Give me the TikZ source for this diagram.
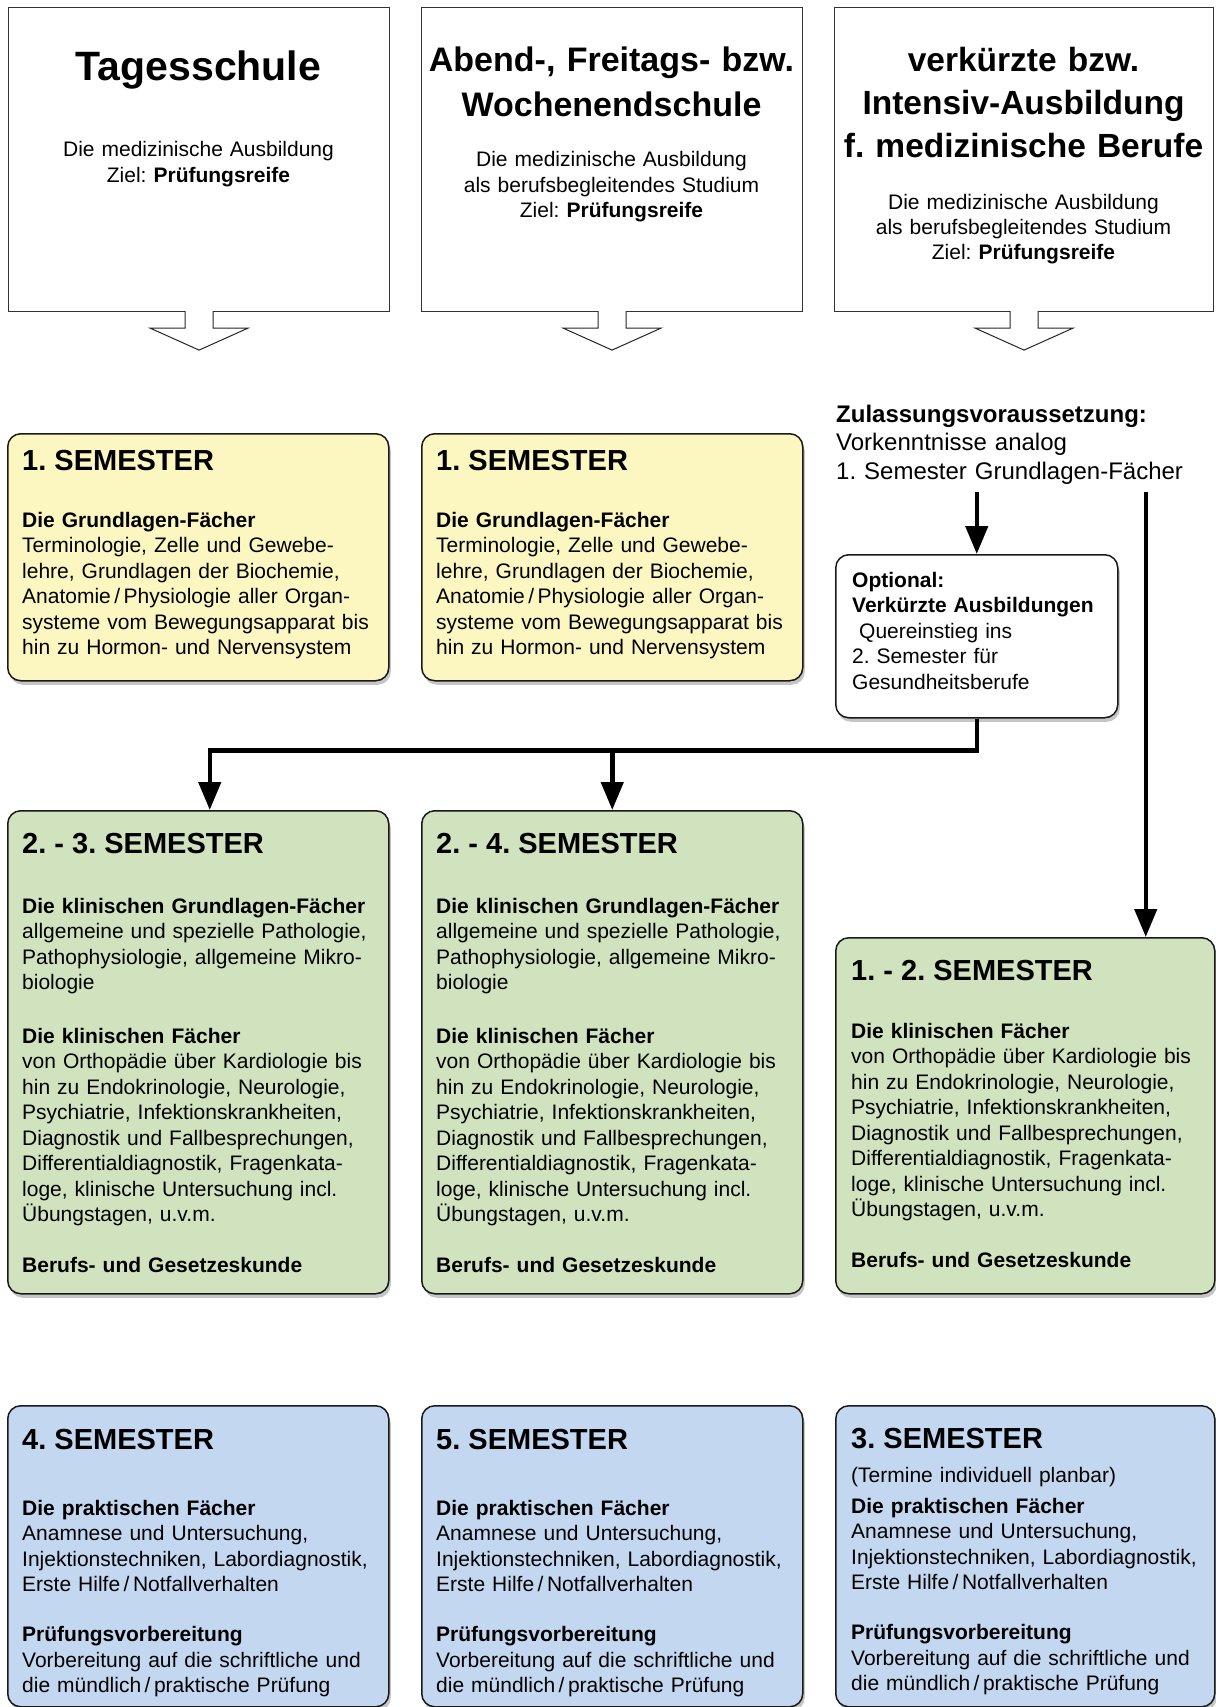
\documentclass[tikz,border=0pt]{standalone}
\usepackage{fontspec}
\setmainfont{Liberation Sans}
\usetikzlibrary{arrows.meta,shadows}
\definecolor{gelb}{HTML}{FCF6C0}
\definecolor{gruen}{HTML}{D0E3BE}
\definecolor{blau}{HTML}{C3D8F0}
\frenchspacing
\begin{document}
\begin{tikzpicture}[x=1pt, y=-1pt,
        topbox/.style={draw=black!80, line width=1.1pt, fill=white, anchor=north west, inner sep=0pt},
        sembox/.style={draw=black!90, line width=1.5pt, rounded corners=13pt, anchor=north west, inner sep=0pt,
            drop shadow={shadow xshift=2pt, shadow yshift=-4pt, opacity=0.45}},
        titel/.style={anchor=base, text width=370pt, align=center, inner sep=0pt},
        unter/.style={anchor=base, text width=370pt, align=center, inner sep=0pt, font=\fontsize{21}{25.5}\selectfont},
        kopf/.style={anchor=base west, inner sep=0pt, font=\bfseries\fontsize{29}{32}\selectfont},
        txt/.style={anchor=base west, text width=380pt, align=left, inner sep=0pt, font=\fontsize{21}{25.5}\selectfont},
        pfeil/.style={draw=black!85, line width=1pt, fill=white},
        conn/.style={line width=4.5pt, -{Triangle[width=22pt,length=28pt]}}
    ]
        \path[use as bounding box, fill=white] (0,0) rectangle (1215,1707);

        % Schulformen
        \node[topbox, minimum width=381, minimum height=304] (tb1) at (8,7) {};
        \node[topbox, minimum width=381, minimum height=304] (tb2) at (421,7) {};
        \node[topbox, minimum width=379, minimum height=304] (tb3) at (834,7) {};
        \draw[pfeil] ([xshift=-14,yshift=1]tb1.south) -- ++(0,17) -- ++(-35,0) -- ++(49,22) -- ++(49,-22) -- ++(-35,0) -- ++(0,-17);
        \draw[pfeil] ([xshift=-14,yshift=1]tb2.south) -- ++(0,17) -- ++(-35,0) -- ++(49,22) -- ++(49,-22) -- ++(-35,0) -- ++(0,-17);
        \draw[pfeil] ([xshift=-14,yshift=1]tb3.south) -- ++(0,17) -- ++(-35,0) -- ++(49,22) -- ++(49,-22) -- ++(-35,0) -- ++(0,-17);

        \node[titel, font=\bfseries\fontsize{41}{45}\selectfont] (tt1) at (198.5,81) {Tagesschule};
        \node[unter] (ts1) at (198.5,157) {Die medizinische Ausbildung\\Ziel: \textbf{Prüfungsreife}};
        \node[titel, font=\bfseries\fontsize{34}{45}\selectfont] (tt2) at (611.5,72) {Abend-, Freitags- bzw.\\Wochenendschule};
        \node[unter] (ts2) at (611.5,167) {Die medizinische Ausbildung\\als berufsbegleitendes Studium\\Ziel: \textbf{Prüfungsreife}};
        \node[titel, font=\bfseries\fontsize{33.5}{43}\selectfont] (tt3) at (1023.5,72) {verkürzte bzw.\\Intensiv-Ausbildung\\f. medizinische Berufe};
        \node[unter, font=\fontsize{21}{24.5}\selectfont] (ts3) at (1023.5,210) {Die medizinische Ausbildung\\als berufsbegleitendes Studium\\Ziel: \textbf{Prüfungsreife}};

        % 1. Semester
        \node[sembox, fill=gelb, minimum width=381, minimum height=247] (y1) at (7,433) {};
        \node[sembox, fill=gelb, minimum width=381, minimum height=247] (y2) at (421,433) {};
        \node[kopf] (ky1) at (22,470) {1. SEMESTER};
        \node[kopf] (ky2) at (436,470) {1. SEMESTER};
        \node[txt] (ty1) at (22,527) {\textbf{Die Grundlagen-Fächer}\\
            Terminologie, Zelle und Gewebe-\\
            lehre, Grundlagen der Biochemie,\\
            Anatomie\,/\,Physiologie aller Organ-\\
            systeme vom Bewegungsapparat bis\\
            hin zu Hormon- und Nervensystem};
        \node[txt] (ty2) at (436,527) {\textbf{Die Grundlagen-Fächer}\\
            Terminologie, Zelle und Gewebe-\\
            lehre, Grundlagen der Biochemie,\\
            Anatomie\,/\,Physiologie aller Organ-\\
            systeme vom Bewegungsapparat bis\\
            hin zu Hormon- und Nervensystem};

        % Zulassung und Quereinstieg
        \node[txt, font=\fontsize{24}{28.5}\selectfont] (zul) at (836,422) {\textbf{Zulassungsvoraussetzung:}\\
            Vorkenntnisse analog\\
            1. Semester Grundlagen-Fächer};
        \node[sembox, fill=white, minimum width=282, minimum height=163] (opt) at (835,554) {};
        \node[txt] (topt) at (852,587) {\textbf{Optional:}\\
            \textbf{Verkürzte Ausbildungen}\\
            \ Quereinstieg ins\\
            2. Semester für\\
            Gesundheitsberufe};

        % klinische Semester
        \node[sembox, fill=gruen, minimum width=381, minimum height=483] (g1) at (7,810) {};
        \node[sembox, fill=gruen, minimum width=381, minimum height=483] (g2) at (421,810) {};
        \node[sembox, fill=gruen, minimum width=379, minimum height=356] (g3) at (835,937) {};
        \node[kopf] (kg1) at (22,853) {2. - 3. SEMESTER};
        \node[kopf] (kg2) at (436,853) {2. - 4. SEMESTER};
        \node[kopf] (kg3) at (851,980) {1. - 2. SEMESTER};
        \node[txt] (tg1) at (22,913) {\textbf{Die klinischen Grundlagen-Fächer}\\
            allgemeine und spezielle Pathologie,\\
            Pathophysiologie, allgemeine Mikro-\\
            biologie\\[28pt]
            \textbf{Die klinischen Fächer}\\
            von Orthopädie über Kardiologie bis\\
            hin zu Endokrinologie, Neurologie,\\
            Psychiatrie, Infektionskrankheiten,\\
            Diagnostik und Fallbesprechungen,\\
            Differentialdiagnostik, Fragenkata-\\
            loge, klinische Untersuchung incl.\\
            Übungstagen, u.v.m.\\[25pt]
            \textbf{Berufs- und Gesetzeskunde}};
        \node[txt] (tg2) at (436,913) {\textbf{Die klinischen Grundlagen-Fächer}\\
            allgemeine und spezielle Pathologie,\\
            Pathophysiologie, allgemeine Mikro-\\
            biologie\\[28pt]
            \textbf{Die klinischen Fächer}\\
            von Orthopädie über Kardiologie bis\\
            hin zu Endokrinologie, Neurologie,\\
            Psychiatrie, Infektionskrankheiten,\\
            Diagnostik und Fallbesprechungen,\\
            Differentialdiagnostik, Fragenkata-\\
            loge, klinische Untersuchung incl.\\
            Übungstagen, u.v.m.\\[25pt]
            \textbf{Berufs- und Gesetzeskunde}};
        \node[txt] (tg3) at (851,1038) {\textbf{Die klinischen Fächer}\\
            von Orthopädie über Kardiologie bis\\
            hin zu Endokrinologie, Neurologie,\\
            Psychiatrie, Infektionskrankheiten,\\
            Diagnostik und Fallbesprechungen,\\
            Differentialdiagnostik, Fragenkata-\\
            loge, klinische Untersuchung incl.\\
            Übungstagen, u.v.m.\\[25pt]
            \textbf{Berufs- und Gesetzeskunde}};

        % praktische Semester
        \node[sembox, fill=blau, minimum width=381, minimum height=301] (b1) at (7,1405) {};
        \node[sembox, fill=blau, minimum width=381, minimum height=301] (b2) at (421,1405) {};
        \node[sembox, fill=blau, minimum width=379, minimum height=301] (b3) at (835,1405) {};
        \node[kopf] (kb1) at (22,1449) {4. SEMESTER};
        \node[kopf] (kb2) at (436,1449) {5. SEMESTER};
        \node[kopf] (kb3) at (851,1448) {3. SEMESTER};
        \node[txt] (tb1t) at (22,1515) {\textbf{Die praktischen Fächer}\\
            Anamnese und Untersuchung,\\
            Injektionstechniken, Labordiagnostik,\\
            Erste Hilfe\,/\,Notfallverhalten\\[24.5pt]
            \textbf{Prüfungsvorbereitung}\\
            Vorbereitung auf die schriftliche und\\
            die mündlich\,/\,praktische Prüfung};
        \node[txt] (tb2t) at (436,1515) {\textbf{Die praktischen Fächer}\\
            Anamnese und Untersuchung,\\
            Injektionstechniken, Labordiagnostik,\\
            Erste Hilfe\,/\,Notfallverhalten\\[24.5pt]
            \textbf{Prüfungsvorbereitung}\\
            Vorbereitung auf die schriftliche und\\
            die mündlich\,/\,praktische Prüfung};
        \node[txt] (tb3t) at (851,1482) {(Termine individuell planbar)\\[5.5pt]
            \textbf{Die praktischen Fächer}\\
            Anamnese und Untersuchung,\\
            Injektionstechniken, Labordiagnostik,\\
            Erste Hilfe\,/\,Notfallverhalten\\[24.5pt]
            \textbf{Prüfungsvorbereitung}\\
            Vorbereitung auf die schriftliche und\\
            die mündlich\,/\,praktische Prüfung};

        % Verbindungen
        \coordinate (zulfuss) at ([yshift=-8pt]zul.south);
        \coordinate (g3ein) at ([xshift=120.5pt]g3.north);
        \coordinate (knick) at ([yshift=-32pt]opt.south);
        \draw[conn] (zulfuss -| opt.north) -- (opt.north);
        \draw[conn] (zulfuss -| g3ein) -- (g3ein);
        \draw[conn] (opt.south) -- (knick) -| ([xshift=11.5pt]g1.north);
        \draw[conn] (knick -| g2.north) -- (g2.north);
    \end{tikzpicture}
\end{document}
